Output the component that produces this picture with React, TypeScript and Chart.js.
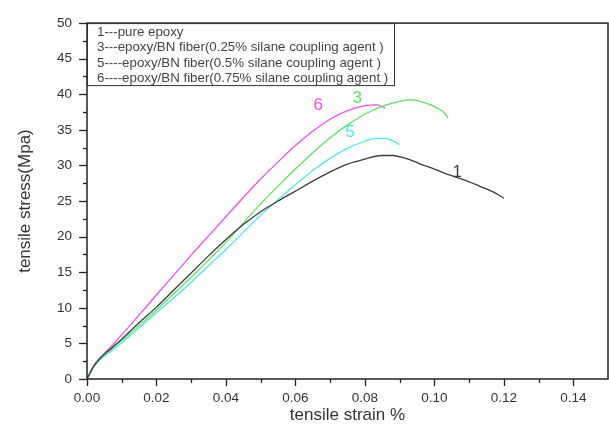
import React, { useEffect, useRef } from 'react';
import { Chart, registerables } from 'chart.js';

Chart.register(...registerables);

// ---- data (tensile strain %, tensile stress MPa) ----
const strain1 = [0, 0.002, 0.004, 0.007, 0.01, 0.015, 0.02, 0.025, 0.03, 0.035, 0.04, 0.045, 0.05, 0.055, 0.06, 0.065, 0.07, 0.075, 0.08, 0.085, 0.088, 0.091, 0.094, 0.097, 0.1, 0.103, 0.106, 0.109, 0.112, 0.115, 0.118, 0.12];
const stress1 = [0, 1.8, 3.0, 4.3, 5.6, 7.9, 10.1, 12.5, 14.9, 17.3, 19.6, 21.7, 23.5, 25.0, 26.4, 27.8, 29.1, 30.2, 30.9, 31.4, 31.4, 31.1, 30.6, 30.0, 29.5, 28.9, 28.4, 27.9, 27.3, 26.7, 26.0, 25.4];

const strain3 = [0, 0.002, 0.004, 0.007, 0.01, 0.015, 0.02, 0.025, 0.03, 0.035, 0.04, 0.045, 0.05, 0.055, 0.06, 0.065, 0.07, 0.075, 0.08, 0.085, 0.09, 0.093, 0.096, 0.099, 0.101, 0.1025, 0.103, 0.1035, 0.104];
const stress3 = [0, 1.9, 3.0, 4.2, 5.4, 7.5, 9.7, 12.0, 14.3, 16.7, 19.2, 21.9, 24.6, 27.1, 29.5, 31.8, 33.9, 35.7, 37.2, 38.3, 39.0, 39.2, 39.0, 38.5, 38.0, 37.6, 37.3, 37.0, 36.7];

const strain5 = [0, 0.002, 0.004, 0.007, 0.01, 0.015, 0.02, 0.025, 0.03, 0.035, 0.04, 0.045, 0.05, 0.055, 0.06, 0.065, 0.07, 0.075, 0.08, 0.083, 0.086, 0.088, 0.09];
const stress5 = [0, 1.8, 2.8, 3.9, 5.1, 7.2, 9.3, 11.4, 13.6, 15.9, 18.2, 20.6, 23.0, 25.2, 27.3, 29.3, 31.0, 32.4, 33.4, 33.8, 33.8, 33.5, 32.9];

const strain6 = [0, 0.002, 0.004, 0.007, 0.01, 0.015, 0.02, 0.025, 0.03, 0.035, 0.04, 0.045, 0.05, 0.055, 0.06, 0.065, 0.07, 0.075, 0.08, 0.0835, 0.0858];
const stress6 = [0, 2.0, 3.1, 4.6, 6.2, 9.0, 11.8, 14.6, 17.4, 20.1, 22.8, 25.5, 28.1, 30.5, 32.8, 34.8, 36.5, 37.7, 38.4, 38.5, 38.1];

const seriesNames = ['1', '3', '5', '6'];
const seriesColors = ['#3c3c3c', '#5ee35e', '#4fe6e6', '#f04ff0'];
const tagStrain = [0.1066, 0.0778, 0.0758, 0.0666];
const tagStress = [29.1, 39.5, 34.7, 38.5];

const legendLines = [
  '1---pure epoxy',
  '3---epoxy/BN fiber(0.25% silane coupling agent )',
  '5----epoxy/BN fiber(0.5% silane coupling agent )',
  '6----epoxy/BN fiber(0.75% silane coupling agent )',
];

const xTickValues = [0, 0.02, 0.04, 0.06, 0.08, 0.1, 0.12, 0.14];
const yTickValues = [0, 5, 10, 15, 20, 25, 30, 35, 40, 45, 50];
const xTitle = 'tensile strain %';
const yTitle = 'tensile stress(Mpa)';

const FONT = '"Liberation Sans", Arial, sans-serif';

const toPoints = (xs: number[], ys: number[]) => xs.map((x, i) => ({ x, y: ys[i] }));

const decorPlugin = {
  id: 'decor',
  afterDraw(chart: any) {
    const { ctx, chartArea, scales } = chart;
    const { left, right, top, bottom } = chartArea;
    const xs = scales.x;
    const ys = scales.y;
    ctx.save();
    ctx.strokeStyle = '#222';
    ctx.lineWidth = 1.3;
    for (let i = 0; i <= 20; i++) {
      const py = Math.round(ys.getPixelForValue(i * 2.5)) + 0.5;
      const len = i % 2 === 0 ? 8 : 4;
      ctx.beginPath();
      ctx.moveTo(left - len, py);
      ctx.lineTo(left, py);
      ctx.stroke();
    }
    for (let i = 0; i <= 14; i++) {
      const px = Math.round(xs.getPixelForValue(i * 0.01)) + 0.5;
      const len = i % 2 === 0 ? 7 : 4;
      ctx.beginPath();
      ctx.moveTo(px, bottom);
      ctx.lineTo(px, bottom + len);
      ctx.stroke();
    }
    ctx.lineWidth = 1.5;
    ctx.strokeRect(left, top, right - left, bottom - top);

    const bw = 307;
    const bh = 62;
    ctx.lineWidth = 1;
    ctx.strokeStyle = '#333';
    ctx.strokeRect(left + 0.5, top + 0.5, bw, bh);
    ctx.fillStyle = '#444';
    ctx.font = `13.3px ${FONT}`;
    ctx.textAlign = 'left';
    ctx.textBaseline = 'middle';
    legendLines.forEach((t, i) => {
      ctx.fillText(t, left + 10, top + 9 + i * 15.4);
    });

    ctx.font = `17px ${FONT}`;
    ctx.textAlign = 'center';
    seriesNames.forEach((n, i) => {
      ctx.fillStyle = seriesColors[i];
      ctx.fillText(n, xs.getPixelForValue(tagStrain[i]), ys.getPixelForValue(tagStress[i]));
    });
    ctx.restore();
  },
};

export default function App() {
  const ref = useRef<HTMLCanvasElement | null>(null);
  useEffect(() => {
    if (!ref.current) return;
    const series = [
      toPoints(strain1, stress1),
      toPoints(strain3, stress3),
      toPoints(strain5, stress5),
      toPoints(strain6, stress6),
    ];
    const chart = new Chart(ref.current, {
      type: 'line',
      data: {
        datasets: series.map((d, i) => ({
          label: seriesNames[i],
          data: d,
          borderColor: seriesColors[i],
          backgroundColor: seriesColors[i],
          borderWidth: 1.3,
          pointRadius: 0,
          cubicInterpolationMode: 'monotone' as const,
          fill: false,
        })),
      },
      options: {
        animation: false,
        responsive: true,
        maintainAspectRatio: false,
        layout: { padding: { top: 15, right: 1, bottom: 0, left: 0 } },
        plugins: { legend: { display: false }, tooltip: { enabled: false } },
        scales: {
          x: {
            type: 'linear',
            min: 0,
            max: 0.15,
            afterBuildTicks: (s: any) => {
              s.ticks = xTickValues.map((v) => ({ value: v }));
            },
            afterFit: (s: any) => {
              s.height = 54;
            },
            grid: { display: false, drawTicks: false },
            border: { display: false },
            ticks: {
              autoSkip: false,
              maxRotation: 0,
              padding: 11,
              color: '#333',
              font: { family: FONT, size: 13.5 },
              callback: (v: any) => Number(v).toFixed(2),
            },
            title: {
              display: true,
              text: xTitle,
              color: '#333',
              font: { family: FONT, size: 17 },
              padding: { top: 0, bottom: 7 },
            },
          },
          y: {
            type: 'linear',
            min: 0,
            max: 50,
            afterBuildTicks: (s: any) => {
              s.ticks = yTickValues.map((v) => ({ value: v }));
            },
            afterFit: (s: any) => {
              s.width = 87;
            },
            grid: { display: false, drawTicks: false },
            border: { display: false },
            ticks: {
              autoSkip: false,
              padding: 15,
              color: '#333',
              font: { family: FONT, size: 13.5 },
              callback: (v: any) => String(v),
            },
            title: {
              display: true,
              text: yTitle,
              color: '#333',
              font: { family: FONT, size: 17 },
              padding: { top: 15, bottom: 0 },
            },
          },
        },
      },
      plugins: [decorPlugin],
    });
    return () => chart.destroy();
  }, []);

  return (
    <div style={{ position: 'absolute', left: 0, top: 0, width: 609, height: 433, background: '#fff' }}>
      <canvas ref={ref} />
    </div>
  );
}
